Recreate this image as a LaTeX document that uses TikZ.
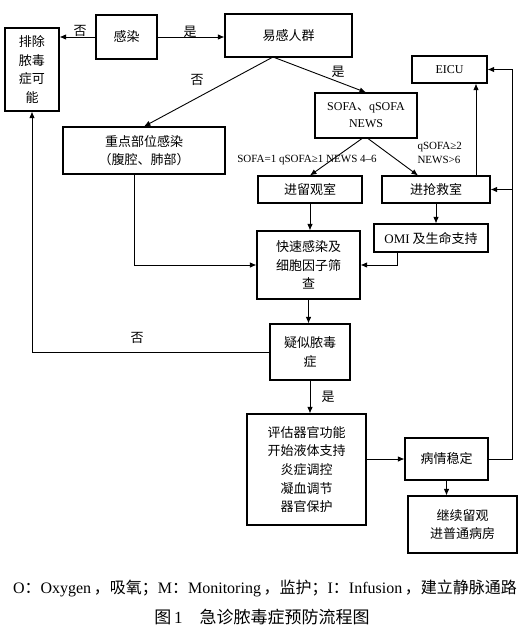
\documentclass[tikz,border=0pt]{standalone}
\usepackage{fontspec}
\usetikzlibrary{arrows.meta}
\setmainfont{Liberation Serif}
\newfontfamily\cjk{Noto Sans CJK SC}

\begin{document}
\begin{tikzpicture}[x=1pt,y=-1pt,>={Latex[length=6.5pt,width=5.5pt]},line width=0.9pt,
  every node/.style={draw,line width=1.1pt,align=center,inner sep=0pt,font=\cjk\fontsize{13}{18.6}\selectfont},
  lbl/.style={draw=none,font=\cjk\fontsize{13}{15}\selectfont},
  note/.style={draw=none,font=\fontsize{11}{14}\selectfont}]
\useasboundingbox (0,0) rectangle (532,632);

%top row
\node[minimum width=54pt,minimum height=83pt] (ex) at (32,69.5) {排除\\脓毒\\症可\\能};
\node[minimum width=61pt,minimum height=44pt] (inf) at (126.5,37) {感染};
\node[minimum width=127pt,minimum height=43pt] (risk) at (288.5,35.5) {易感人群};
\node[minimum width=75pt,minimum height=27pt,font=\fontsize{12}{14}\selectfont] (icu) at (449.5,69.5) {EICU};

%scores
\node[minimum width=102pt,minimum height=45pt,font=\fontsize{12}{17}\selectfont] (sofa) at (366,115.5) {SOFA{\cjk 、}qSOFA\\NEWS};
\node[minimum width=162pt,minimum height=47pt] (site) at (144,150.5) {重点部位感染\\（腹腔、肺部）};
\node[minimum width=104pt,minimum height=27pt] (obs) at (310,189.5) {进留观室};
\node[minimum width=108pt,minimum height=27pt] (er) at (436,189.5) {进抢救室};
\node[minimum width=114pt,minimum height=28pt] (omi) at (431,238) {{\rmfamily OMI} 及生命支持};

%screening and treatment
\node[minimum width=103pt,minimum height=68pt] (scr) at (308.5,265) {快速感染及\\细胞因子筛\\查};
\node[minimum width=80pt,minimum height=56pt] (sus) at (310,352) {疑似脓毒\\症};
\node[minimum width=119pt,minimum height=111pt] (tx) at (306.5,469.5) {评估器官功能\\开始液体支持\\炎症调控\\凝血调节\\器官保护};
\node[minimum width=83pt,minimum height=42pt] (stab) at (446.5,459) {病情稳定};
\node[minimum width=109pt,minimum height=57pt] (ward) at (462.5,524.5) {继续留观\\进普通病房};

\coordinate (fork) at (273,57);
\coordinate (rail) at (512,0);

\draw[->] (inf.west) -- (inf.west -| ex.east);
\draw[->] (inf.east) -- (inf.east -| risk.west);
\draw[->] (fork) -- (site.north);
\draw[->] (fork) -- (sofa.north);
\draw[->] ([xshift=-4pt]sofa.south) -- (obs.north);
\draw[->] ([xshift=2pt]sofa.south) -- ([xshift=-18pt]er.north);
\draw[->] ([xshift=40pt]er.north) -- ([xshift=40pt]er.north |- icu.south);
\draw[->] (er.south) -- (er.south |- omi.north);
\draw[->] (obs.south) -- (obs.south |- scr.north);
\draw[->] ([xshift=-10pt]site.south) |- (scr.west);
\draw[->] ([xshift=-34pt]omi.south) |- (scr.east);
\draw[->] (scr.south) -- (scr.south |- sus.north);
\draw[->] (sus.west) -| (ex.south);
\draw[->] (sus.south) -- (sus.south |- tx.north);
\draw[->] (tx.east |- stab.west) -- (stab.west);
\draw[->] (stab.south) -- (stab.south |- ward.north);
\draw[->] (stab.east) -| (rail |- icu.east) -- (icu.east);
\draw[->] (rail |- er.east) -- (er.east);

%labels
\node[lbl] (no1) at (80,31) {否};
\node[lbl] (yes1) at (190,32) {是};
\node[lbl] (no2) at (197,80) {否};
\node[lbl] (yes2) at (338,72) {是};
\node[note] (low) at (307,160) {SOFA=1 qSOFA≥1 NEWS 4–6};
\node[note,align=left,anchor=west] (high) at (417,153) {qSOFA≥2\\NEWS>6};
\node[lbl] (no3) at (137,338) {否};
\node[lbl] (yes3) at (328,397) {是};

%caption
\node[draw=none,font=\fontsize{16}{18}\selectfont] (key) at (265,588) {O{\cjk ：}Oxygen\,{\cjk ，吸氧；}M{\cjk ：}Monitoring\,{\cjk ，监护；}I{\cjk ：}Infusion\,{\cjk ，建立静脉通路}};
\node[draw=none,font=\cjk\fontsize{17}{20}\selectfont] (cap) at (262,617) {图{\rmfamily\,1}\quad 急诊脓毒症预防流程图};

\end{tikzpicture}
\end{document}
